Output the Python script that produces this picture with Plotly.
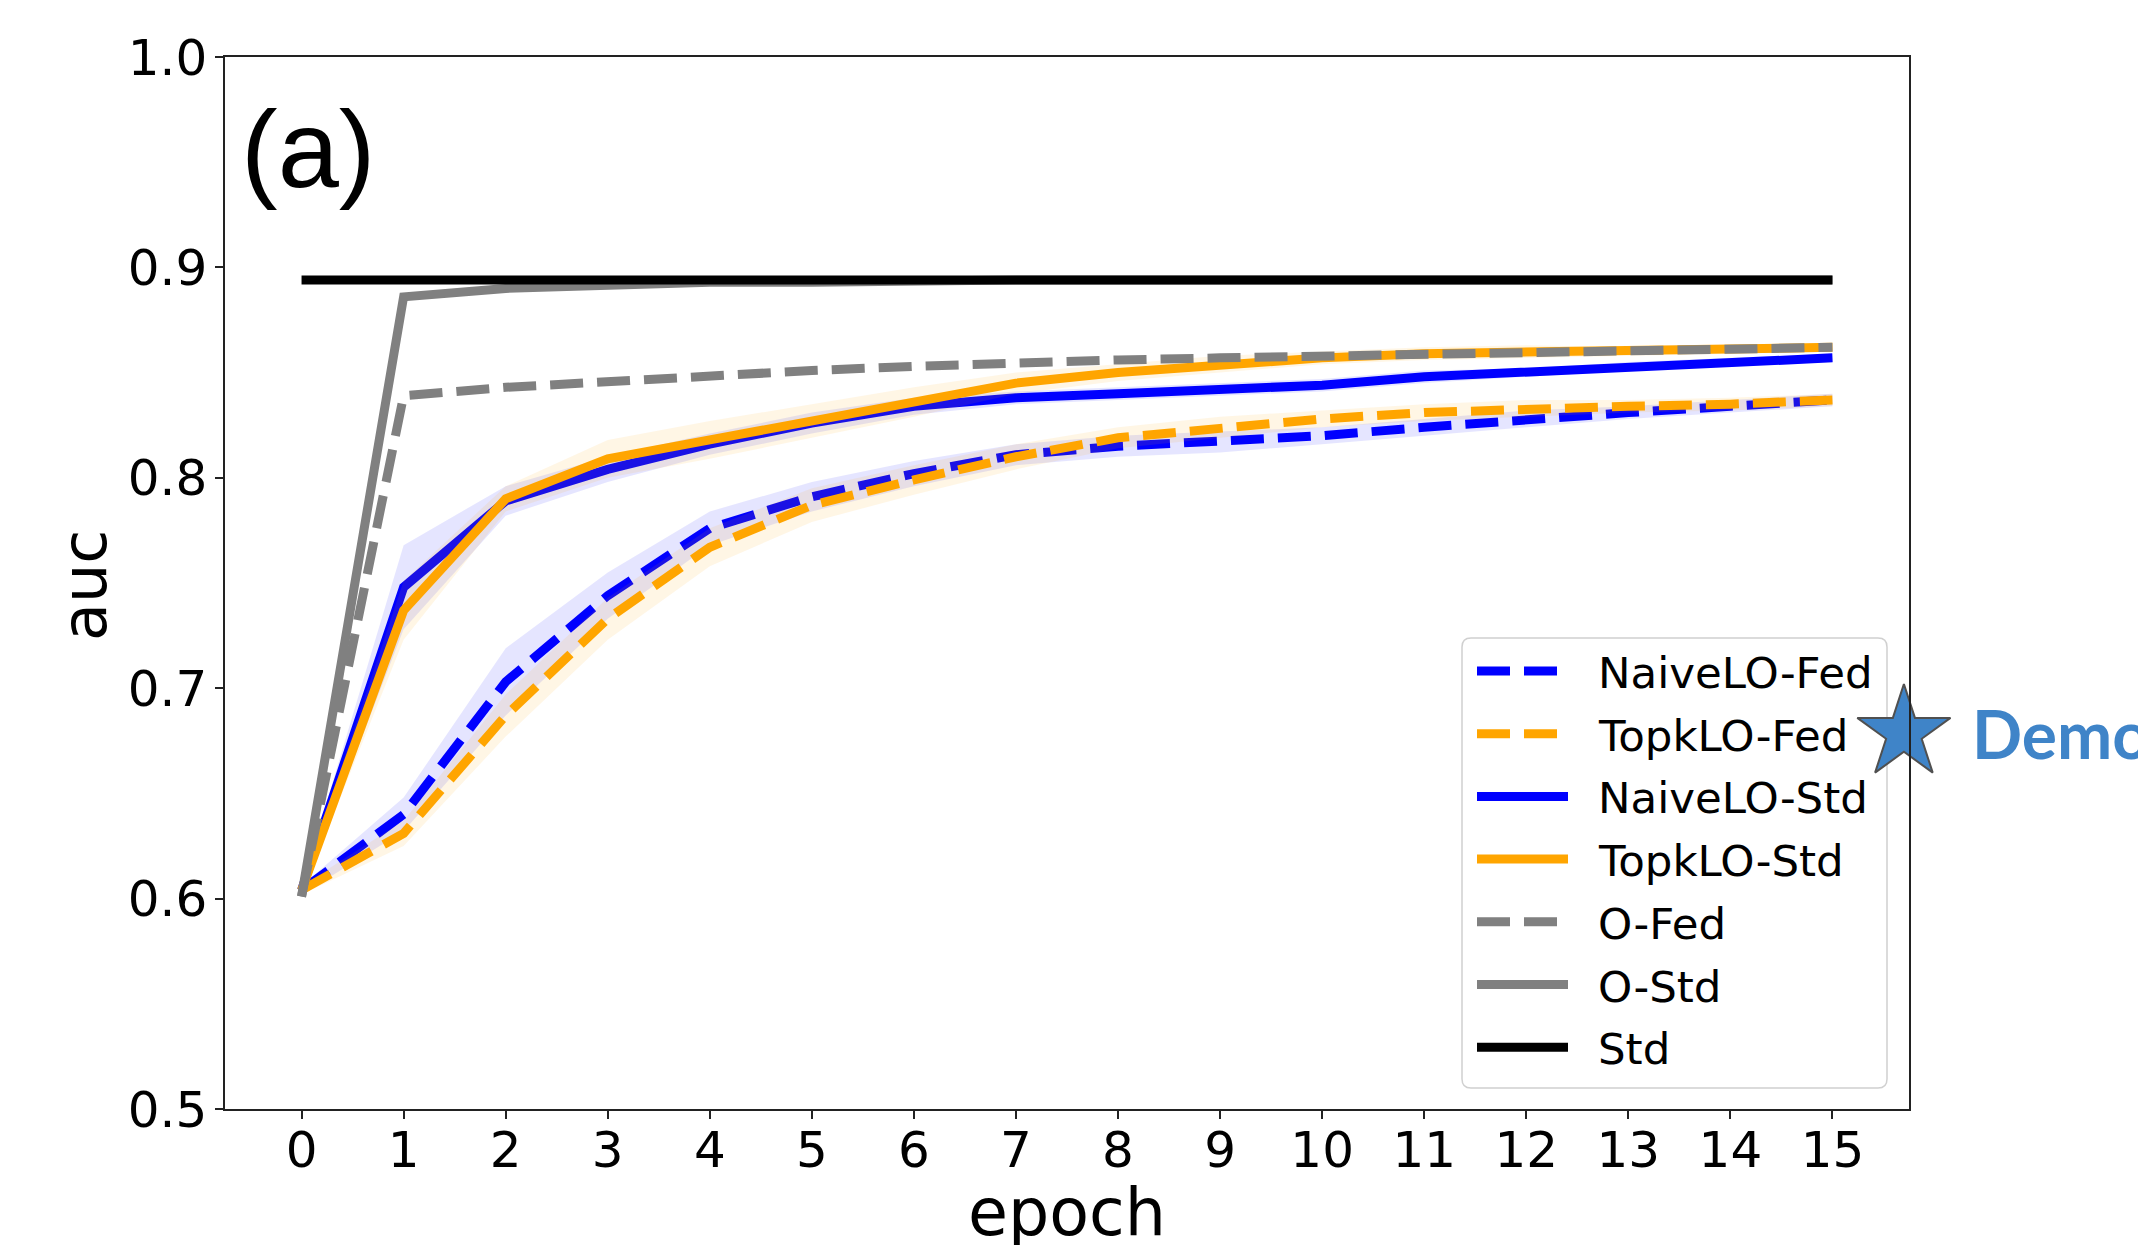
import plotly.graph_objects as go

# ---------------- data ----------------
epochs = [0, 1, 2, 3, 4, 5, 6, 7, 8, 9, 10, 11, 12, 13, 14, 15]
x_tick_labels = ["0", "1", "2", "3", "4", "5", "6", "7", "8", "9", "10", "11", "12", "13", "14", "15"]
y_tick_vals = [0.5, 0.6, 0.7, 0.8, 0.9, 1.0]
y_tick_labels = ["0.5", "0.6", "0.7", "0.8", "0.9", "1.0"]

naive_fed = [0.604, 0.640, 0.703, 0.744, 0.776, 0.791, 0.802, 0.811, 0.815, 0.817, 0.820, 0.824, 0.828, 0.831, 0.834, 0.837]
naive_fed_sd = [0.002, 0.008, 0.016, 0.011, 0.008, 0.007, 0.006, 0.005, 0.005, 0.005, 0.004, 0.004, 0.004, 0.003, 0.003, 0.003]
topk_fed = [0.604, 0.631, 0.687, 0.733, 0.767, 0.787, 0.799, 0.810, 0.819, 0.824, 0.828, 0.831, 0.833, 0.834, 0.835, 0.837]
topk_fed_sd = [0.002, 0.006, 0.010, 0.010, 0.009, 0.008, 0.007, 0.006, 0.005, 0.005, 0.004, 0.004, 0.004, 0.003, 0.003, 0.003]
naive_std = [0.604, 0.748, 0.789, 0.804, 0.816, 0.826, 0.834, 0.838, 0.840, 0.842, 0.844, 0.848, 0.850, 0.853, 0.855, 0.857]
naive_std_sd = [0.002, 0.020, 0.007, 0.006, 0.005, 0.005, 0.004, 0.003, 0.003, 0.003, 0.003, 0.003, 0.002, 0.002, 0.002, 0.002]
topk_std = [0.604, 0.737, 0.790, 0.809, 0.818, 0.827, 0.836, 0.845, 0.850, 0.854, 0.857, 0.859, 0.860, 0.860, 0.861, 0.862]
topk_std_sd = [0.002, 0.014, 0.006, 0.009, 0.009, 0.008, 0.007, 0.005, 0.004, 0.004, 0.003, 0.003, 0.003, 0.002, 0.002, 0.002]
o_fed = [0.601, 0.839, 0.843, 0.846, 0.849, 0.851, 0.853, 0.855, 0.856, 0.857, 0.858, 0.859, 0.860, 0.860, 0.861, 0.862]
o_std = [0.601, 0.886, 0.890, 0.892, 0.893, 0.893, 0.894, 0.894, 0.894, 0.894, 0.894, 0.894, 0.894, 0.894, 0.894, 0.894]
std_line = [0.894, 0.894, 0.894, 0.894, 0.894, 0.894, 0.894, 0.894, 0.894, 0.894, 0.894, 0.894, 0.894, 0.894, 0.894, 0.894]

series_names = ["NaiveLO-Fed", "TopkLO-Fed", "NaiveLO-Std", "TopkLO-Std", "O-Fed", "O-Std", "Std"]
series_values = [naive_fed, topk_fed, naive_std, topk_std, o_fed, o_std, std_line]
series_sd = [naive_fed_sd, topk_fed_sd, naive_std_sd, topk_std_sd, None, None, None]
series_colors = ["#0000ff", "#ffa500", "#0000ff", "#ffa500", "#808080", "#808080", "#000000"]
band_colors = ["rgba(0,0,255,0.10)", "rgba(255,165,0,0.10)", "rgba(0,0,255,0.10)", "rgba(255,165,0,0.10)", None, None, None]
series_dashed = [True, True, False, False, True, False, False]

panel_label = "(a)"
x_title = "epoch"
y_title = "auc"
demo_text = "Demo"

# ---------------- layout geometry (pixels) ----------------
W, H = 2138, 1245
L, R, T, B = 225, 1909, 57, 1109
PW, PH = R - L, B - T
LW = 9
DASH = "33px,14px"
TICK_FONT = dict(family="DejaVu Sans", size=50, color="#000000")


def px(xp):
    return (xp - L) / PW


def py(yp):
    return (B - yp) / PH


fig = go.Figure()

for name, vals, sd, col, bcol, dashed in zip(series_names, series_values, series_sd,
                                             series_colors, band_colors, series_dashed):
    if sd is not None:
        lower = [v - s for v, s in zip(vals, sd)]
        upper = [v + s for v, s in zip(vals, sd)]
        fig.add_trace(go.Scatter(x=epochs, y=lower, mode="lines", line=dict(width=0),
                                 hoverinfo="skip", showlegend=False))
        fig.add_trace(go.Scatter(x=epochs, y=upper, mode="lines", line=dict(width=0),
                                 fill="tonexty", fillcolor=bcol, hoverinfo="skip", showlegend=False))
    fig.add_trace(go.Scatter(x=epochs, y=vals, mode="lines", name=name,
                             line=dict(color=col, width=LW, dash=DASH if dashed else "solid"),
                             showlegend=False))

# ---------------- manual legend (matplotlib style) ----------------
leg_x0, leg_x1, leg_y0, leg_y1 = 1462, 1887, 638, 1088
r = 9
rx, ry = r / PW, r / PH
a, b_, c, d = px(leg_x0), px(leg_x1), py(leg_y1), py(leg_y0)
path = (f"M {a+rx},{c} L {b_-rx},{c} Q {b_},{c} {b_},{c+ry} L {b_},{d-ry} Q {b_},{d} {b_-rx},{d} "
        f"L {a+rx},{d} Q {a},{d} {a},{d-ry} L {a},{c+ry} Q {a},{c} {a+rx},{c} Z")
fig.add_shape(type="path", xref="paper", yref="paper", path=path,
              fillcolor="rgba(255,255,255,0.8)", line=dict(color="#d0d0d0", width=1.5), layer="below")

row0, row_step = 671, 62.7
for i, (name, col, dashed) in enumerate(zip(series_names, series_colors, series_dashed)):
    yc = row0 + i * row_step
    fig.add_shape(type="line", xref="paper", yref="paper",
                  x0=px(1477), x1=px(1568), y0=py(yc), y1=py(yc),
                  line=dict(color=col, width=LW, dash=DASH if dashed else "solid"), layer="below")
    fig.add_annotation(xref="paper", yref="paper", x=px(1596), y=py(yc + 2), xanchor="left",
                       yanchor="middle", text=name, showarrow=False,
                       font=dict(family="DejaVu Sans", size=43.5, color="#000000"))

# ---------------- texts ----------------
fig.add_annotation(xref="paper", yref="paper", x=px(239), y=py(149), xanchor="left", yanchor="middle",
                   text=panel_label, showarrow=False,
                   font=dict(family="Liberation Sans", size=110, color="#000000"))
fig.add_annotation(xref="paper", yref="paper", x=px(1067), y=py(1212), xanchor="center", yanchor="middle",
                   text=x_title, showarrow=False,
                   font=dict(family="DejaVu Sans", size=65, color="#000000"))
fig.add_annotation(xref="paper", yref="paper", x=px(84), y=py(586), xanchor="center", yanchor="middle",
                   text=y_title, textangle=-90, showarrow=False,
                   font=dict(family="DejaVu Sans", size=62, color="#000000"))
# neighbouring panel's axis title, cut by the image edge
fig.add_annotation(xref="paper", yref="paper", x=px(2152), y=py(586), xanchor="center", yanchor="middle",
                   text=y_title, textangle=-90, showarrow=False,
                   font=dict(family="DejaVu Sans", size=62, color="#000000"))

# decorative star + "Demo" overlay
fig.add_trace(go.Scatter(x=[15.70], y=[0.6787], mode="markers", cliponaxis=False, hoverinfo="skip",
                         marker=dict(symbol="star", size=70, color="#3f84c8",
                                     line=dict(color="#505050", width=2)),
                         showlegend=False))
fig.add_annotation(xref="paper", yref="paper", x=px(1970), y=py(733), xanchor="left", yanchor="middle",
                   text=f"<b>{demo_text}</b>", showarrow=False,
                   font=dict(family="Lato", size=66, color="#3f84c8"))

fig.update_layout(
    width=W, height=H,
    margin=dict(l=L, r=W - R, t=T, b=H - B, pad=0),
    paper_bgcolor="white", plot_bgcolor="white",
    showlegend=False,
    xaxis=dict(range=[-0.75, 15.75], tickvals=epochs, ticktext=x_tick_labels,
               showgrid=False, zeroline=False, showline=True, mirror=True,
               linecolor="#222222", linewidth=1.5, ticks="outside", ticklen=8, tickwidth=1.5,
               tickcolor="#222222", tickfont=TICK_FONT, ticklabelstandoff=-12),
    yaxis=dict(range=[0.5, 1.0], tickvals=y_tick_vals, ticktext=y_tick_labels,
               showgrid=False, zeroline=False, showline=True, mirror=True,
               linecolor="#222222", linewidth=1.5, ticks="outside", ticklen=8, tickwidth=1.5,
               tickcolor="#222222", tickfont=TICK_FONT, ticklabelstandoff=-2),
)

fig.write_html("out.html", config={"displayModeBar": False},
               post_script="document.body.style.margin='0px';document.body.style.overflow='hidden';")
